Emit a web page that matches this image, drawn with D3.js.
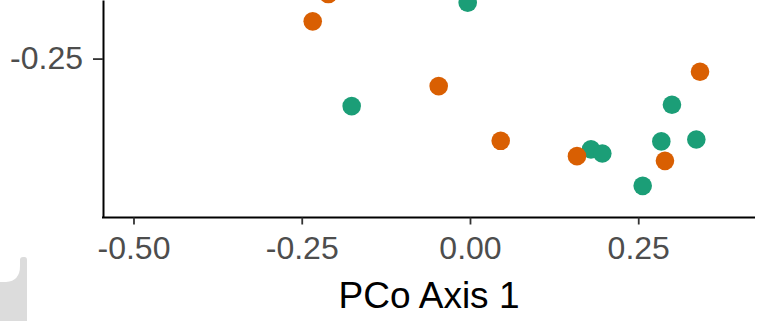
<!DOCTYPE html>
<html>
<head>
<meta charset="utf-8">
<script src="https://cdn.jsdelivr.net/npm/d3@7"></script>
<style>
  body { margin: 0; background: #fff; }
  svg { display: block; overflow: hidden; }
  .axis text { font-family: "Liberation Sans", Arial, sans-serif; fill: #4d4d4d; }
  .axis .tick line { stroke: #333; stroke-width: 1.8; }
  .axis .domain { stroke: #000; stroke-width: 2; }
</style>
</head>
<body>
<script>
// PCoA scores
var groupA_x = [-0.0034, -0.1758, 0.1798, 0.1966, 0.2566, 0.2843, 0.3001, 0.3363];
var groupA_y = [-0.1671, -0.3206, -0.3849, -0.3909, -0.4390, -0.3730, -0.3186, -0.3701];
var groupB_x = [-0.2337, -0.2105, -0.0465, 0.0456, 0.1590, 0.2897, 0.3418];
var groupB_y = [-0.1947, -0.1542, -0.2909, -0.3721, -0.3949, -0.4019, -0.2696];
var groups = ["A", "B"];
var xTicks = [-0.50, -0.25, 0.00, 0.25];
var yTicks = [-0.25];

var width = 757, height = 321;
var panel = { left: 103, right: 755, top: 0, bottom: 217.5 };

var color = d3.scaleOrdinal().domain(groups).range(["#1b9e77", "#d95f02"]);

var x = d3.scaleLinear().
domain([-0.5453, 0.4235]).
range([panel.left, panel.right]);

var y = d3.scaleLinear().
domain([-0.486, -0.163]).
range([panel.bottom, panel.top]);

var fmt = function (d) {return d.toFixed(2);};

var svg = d3.select("body").append("svg").
attr("width", width).
attr("height", height);

// grey UI scrap in the bottom-left corner of the screenshot
svg.append("path").
attr("d", "M0,282 L6,282 Q20,281 20,266 L20,260 Q20,257 23,257 L24.5,257 Q27,257 27,260 L27,321 L0,321 Z").
style("fill", "#dcdcdc");

var data = [];
groupA_x.forEach(function (v, i) {data.push({ g: "A", x: v, y: groupA_y[i] });});
groupB_x.forEach(function (v, i) {data.push({ g: "B", x: v, y: groupB_y[i] });});

svg.selectAll(".dot").
data(data).
enter().
append("circle").
attr("class", "dot").
attr("r", 9.3).
attr("cx", function (d) {return x(d.x);}).
attr("cy", function (d) {return y(d.y);}).
style("fill", function (d) {return color(d.g);});

svg.append("g").
attr("class", "x axis").
attr("transform", "translate(0," + panel.bottom + ")").
call(d3.axisBottom(x).tickValues(xTicks).tickFormat(fmt).tickSize(7).tickSizeOuter(0).tickPadding(12)).
selectAll("text").
style("font-size", "32px");

svg.append("g").
attr("class", "y axis").
attr("transform", "translate(" + panel.left + ",0)").
call(d3.axisLeft(y).tickValues(yTicks).tickFormat(fmt).tickSize(10).tickSizeOuter(0).tickPadding(10)).
selectAll("text").
style("font-size", "32px");

svg.select(".x.axis .domain").attr("d", "M" + (panel.left - 1) + ",0H" + panel.right);

svg.append("text").
attr("x", (panel.left + panel.right) / 2).
attr("y", 308).
style("text-anchor", "middle").
style("font-family", "Liberation Sans, Arial, sans-serif").
style("font-size", "37px").
style("fill", "#000").
text("PCo Axis 1");
</script>
</body>
</html>
